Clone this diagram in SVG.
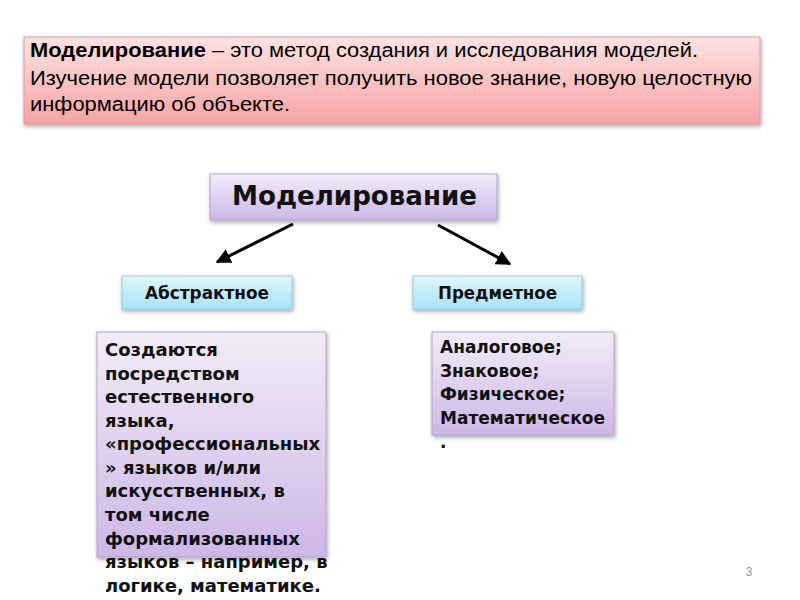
<svg xmlns="http://www.w3.org/2000/svg" width="800" height="600" viewBox="0 0 800 600">
<defs>
<linearGradient id="gPink" x1="0" y1="0" x2="0" y2="1"><stop offset="0" stop-color="#fde3e3"/><stop offset="1" stop-color="#f7a3a3"/></linearGradient>
<linearGradient id="gPurple" x1="0" y1="0" x2="0" y2="1"><stop offset="0" stop-color="#f3ecf8"/><stop offset="1" stop-color="#cdb7e6"/></linearGradient>
<linearGradient id="gBlue" x1="0" y1="0" x2="0" y2="1"><stop offset="0" stop-color="#e2f6fd"/><stop offset="1" stop-color="#a7e3f8"/></linearGradient>
<filter id="sh" x="-10%" y="-10%" width="120%" height="130%"><feDropShadow dx="1" dy="2" stdDeviation="2" flood-color="#000" flood-opacity="0.35"/></filter>
<marker id="ah" viewBox="0 0 10 10" refX="9" refY="5" markerWidth="5" markerHeight="5" orient="auto" markerUnits="strokeWidth"><path d="M0,0 L10,5 L0,10 z" fill="#000"/></marker>
<style>
.box{filter:url(#sh);}
.pink{fill:url(#gPink);stroke:#e29a9a;stroke-width:1;}
.purple{fill:url(#gPurple);stroke:#b3a2c8;stroke-width:1;}
.blue{fill:url(#gBlue);stroke:#93cbe0;stroke-width:1;}
.top{font-family:"Liberation Sans",Arial,sans-serif;font-size:19.5px;fill:#000;}
.b{font-family:"DejaVu Sans","Liberation Sans",sans-serif;font-weight:bold;fill:#111;}
.conn{stroke:#000;stroke-width:3;fill:none;marker-end:url(#ah);}
</style>
</defs>
<rect width="800" height="600" fill="#fff"/>
<g id="definition">
<rect class="box pink" x="24" y="37" width="736" height="87"/>
<text class="top" x="30" y="57" textLength="668" lengthAdjust="spacingAndGlyphs"><tspan font-weight="bold">Моделирование</tspan> – это метод создания и исследования моделей.</text>
<text class="top" x="30" y="85" textLength="722" lengthAdjust="spacingAndGlyphs">Изучение модели позволяет получить новое знание, новую целостную</text>
<text class="top" x="30" y="111" textLength="260" lengthAdjust="spacingAndGlyphs">информацию об объекте.</text>
</g>
<g id="modeling">
<rect class="box purple" x="210" y="174" width="287" height="46"/>
<text class="b" x="232" y="205" font-size="26" textLength="245" lengthAdjust="spacingAndGlyphs">Моделирование</text>
</g>
<g id="abstract">
<rect class="box blue" x="122" y="276" width="170" height="33"/>
<text class="b" x="145" y="299" font-size="17" textLength="124" lengthAdjust="spacingAndGlyphs">Абстрактное</text>
</g>
<g id="subject">
<rect class="box blue" x="413" y="276" width="169" height="33"/>
<text class="b" x="438" y="299" font-size="17" textLength="119" lengthAdjust="spacingAndGlyphs">Предметное</text>
</g>
<g id="abstract-desc">
<rect class="box purple" x="97" y="332" width="229" height="225"/>
<text class="b" font-size="18">
<tspan x="105" y="356">Создаются</tspan>
<tspan x="105" y="380">посредством</tspan>
<tspan x="105" y="403">естественного</tspan>
<tspan x="105" y="427">языка,</tspan>
<tspan x="105" y="450">«профессиональных</tspan>
<tspan x="105" y="474">» языков и/или</tspan>
<tspan x="105" y="497">искусственных, в</tspan>
<tspan x="105" y="521">том числе</tspan>
<tspan x="105" y="545">формализованных</tspan>
<tspan x="105" y="568">языков – например, в</tspan>
<tspan x="105" y="592">логике, математике.</tspan>
</text>
</g>
<g id="subject-desc">
<rect class="box purple" x="432" y="332" width="182" height="103"/>
<text class="b" font-size="17">
<tspan x="440" y="353">Аналоговое;</tspan>
<tspan x="440" y="377">Знаковое;</tspan>
<tspan x="440" y="400">Физическое;</tspan>
<tspan x="440" y="424">Математическое</tspan>
<tspan x="440" y="448">.</tspan>
</text>
</g>
<g id="connectors">
<line class="conn" x1="293" y1="224" x2="217" y2="262"/>
<line class="conn" x1="438" y1="225" x2="510" y2="264"/>
</g>
<text x="749" y="576" font-family="Liberation Sans,sans-serif" font-size="12" fill="#999" text-anchor="middle">3</text>
</svg>
